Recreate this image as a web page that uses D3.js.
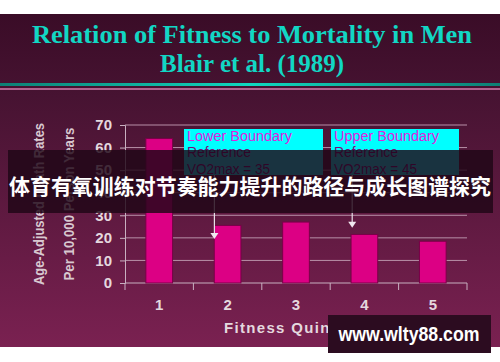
<!DOCTYPE html>
<html><head><meta charset="utf-8">
<script src="https://cdn.jsdelivr.net/npm/d3@7/dist/d3.min.js"></script>
<style>body{margin:0;background:#fff;}svg{display:block;}</style>
</head><body>
<script>
const categories = ["1","2","3","4","5"];
const deathRates = [64, 25.5, 27, 21.5, 18.5];
const yTicks = [0,10,20,30,40,50,60,70];
const titleLines = ["Relation of Fitness to Mortality in Men","Blair et al. (1989)"];
const yLabels = ["Age-Adjusted Death Rates","Per 10,000 Person Years"];
const xLabel = "Fitness Quintiles";
const boxes = [
  {lines:["Lower Boundary","Reference","VO2max = 35"], cat:"2", arrowTo:19.5},
  {lines:["Upper Boundary","Reference","VO2max = 45"], cat:"4", arrowTo:24.5}
];
const overlayText = "体育有氧训练对节奏能力提升的路径与成长图谱探究";
const watermark = "www.wlty88.com";

const W=500,H=362;
const svg=d3.select("body").append("svg").attr("width",W).attr("height",H);
const defs=svg.append("defs");
const bg=defs.append("linearGradient").attr("id","bg").attr("x1",0).attr("y1",0).attr("x2",0).attr("y2",1);
bg.append("stop").attr("offset","0%").attr("stop-color","#3a0c27");
bg.append("stop").attr("offset","25%").attr("stop-color","#471332");
bg.append("stop").attr("offset","100%").attr("stop-color","#7a2151");
const tl=defs.append("linearGradient").attr("id","tl");
tl.append("stop").attr("offset","0%").attr("stop-color","#0d7f74");
tl.append("stop").attr("offset","50%").attr("stop-color","#10d8c0");
tl.append("stop").attr("offset","100%").attr("stop-color","#0d7f74");

svg.append("rect").attr("x",0).attr("y",14).attr("width",W).attr("height",333).attr("fill","url(#bg)");
svg.append("rect").attr("x",0).attr("y",83).attr("width",W).attr("height",3).attr("fill","url(#tl)");
svg.append("rect").attr("x",0).attr("y",88).attr("width",W).attr("height",2).attr("fill","#b0628e");

// title
svg.selectAll(".title").data(titleLines).join("text")
  .attr("x",252).attr("y",(d,i)=>43+i*29).attr("text-anchor","middle")
  .attr("font-family","'Liberation Serif','DejaVu Serif',serif").attr("font-weight","bold")
  .attr("font-size",26).attr("fill","#12d6c4")
  .attr("textLength",(d,i)=>i===0?440:184).attr("lengthAdjust","spacingAndGlyphs")
  .text(d=>d);

const x=d3.scaleBand().domain(categories).range([125,467]).paddingInner(0.61).paddingOuter(0.305);
const y=d3.scaleLinear().domain([0,70]).range([283,125]);

// grid
svg.append("g").selectAll("line").data(yTicks.filter(t=>t>0)).join("line")
  .attr("x1",125).attr("x2",467).attr("y1",d=>y(d)).attr("y2",d=>y(d))
  .attr("stroke","#b890a8").attr("stroke-width",1);

// axes
const yAxis=svg.append("g").attr("transform","translate(125,0)")
  .call(d3.axisLeft(y).tickValues(yTicks).tickSize(5).tickPadding(8));
const xAxis=svg.append("g").attr("transform","translate(0,283)")
  .call(d3.axisBottom(x).tickSize(0).tickPadding(16));
[yAxis,xAxis].forEach(g=>{
  g.select(".domain").attr("stroke","#c8b0c0");
  g.selectAll(".tick line").attr("stroke","#c8b0c0");
  g.selectAll("text").attr("fill","#e4d8de").attr("font-family","'Liberation Sans',Arial,sans-serif")
   .attr("font-weight","bold").attr("font-size",15);
});
xAxis.select(".domain").attr("d","M125,0H467");
const bounds=[...categories.map(c=>x(c)-x.step()*x.paddingInner()/2), 467];
xAxis.append("g").selectAll("line").data(bounds).join("line")
  .attr("x1",d=>d).attr("x2",d=>d).attr("y1",0).attr("y2",7).attr("stroke","#c8b0c0");

// bars
svg.append("g").selectAll("rect").data(deathRates).join("rect")
  .attr("x",(d,i)=>x(categories[i])).attr("width",x.bandwidth())
  .attr("y",d=>y(d)).attr("height",d=>y(0)-y(d))
  .attr("fill","#dc0084").attr("stroke","#7a0048").attr("stroke-width",1);

// axis titles
const yLabLen=[162,153];
yLabels.forEach((t,i)=>{
  svg.append("text").attr("transform",`translate(${44+i*30},204) rotate(-90)`)
    .attr("text-anchor","middle").attr("font-family","'Liberation Sans',Arial,sans-serif")
    .attr("font-weight","bold").attr("font-size",14).attr("fill","#d8c8d0")
    .attr("textLength",yLabLen[i]).attr("lengthAdjust","spacingAndGlyphs").text(t);
});
svg.append("text").attr("x",295).attr("y",333).attr("text-anchor","middle")
  .attr("font-family","'Liberation Sans',Arial,sans-serif").attr("font-weight","bold")
  .attr("font-size",15).attr("fill","#e4d8de")
  .attr("textLength",142).attr("lengthAdjust","spacing").text(xLabel);

// boxes and arrows
const boxX=[184,331];
const lineLen=[105,64,83];
boxes.forEach((b,i)=>{
  const g=svg.append("g");
  const bx=boxX[i], bw=i===0?139:128;
  g.append("rect").attr("x",bx).attr("y",129).attr("width",bw).attr("height",46).attr("fill","#00ffff");
  g.selectAll("text").data(b.lines).join("text")
    .attr("x",bx+3).attr("y",(d,j)=>141+j*16.3)
    .attr("font-family","'Liberation Sans',Arial,sans-serif").attr("font-size",14)
    .attr("fill",(d,j)=>j===0?"#e020e0":"#7a0a7a")
    .attr("textLength",(d,j)=>lineLen[j]).attr("lengthAdjust","spacingAndGlyphs").text(d=>d);
  const ax=x(b.cat)-x.step()*x.paddingInner()/2+ (i===0?21:22);
  g.append("line").attr("x1",ax).attr("x2",ax).attr("y1",175).attr("y2",y(b.arrowTo)-5)
    .attr("stroke","#e8e0e8").attr("stroke-width",1.2);
  g.append("path").attr("d",`M${ax-4},${y(b.arrowTo)-6}L${ax+4},${y(b.arrowTo)-6}L${ax},${y(b.arrowTo)}Z`).attr("fill","#f0e8f0");
});

// overlay band
svg.append("rect").attr("x",8).attr("y",150).attr("width",485).attr("height",63).attr("fill","#1e0616").attr("opacity",0.82);
svg.append("text").attr("x",250).attr("y",194).attr("text-anchor","middle")
  .attr("font-family","'Noto Sans CJK SC',sans-serif").attr("font-weight","bold")
  .attr("font-size",21).attr("fill","#ffffff").attr("textLength",482).attr("lengthAdjust","spacingAndGlyphs")
  .text(overlayText);

// watermark
svg.append("rect").attr("x",328).attr("y",315).attr("width",163).attr("height",38).attr("fill","#2c0c20");
svg.append("text").attr("x",409).attr("y",341).attr("text-anchor","middle")
  .attr("font-family","'Liberation Sans',Arial,sans-serif").attr("font-weight","bold")
  .attr("font-size",20).attr("fill","#ffffff").attr("textLength",141).attr("lengthAdjust","spacingAndGlyphs")
  .text(watermark);
</script>
</body></html>
